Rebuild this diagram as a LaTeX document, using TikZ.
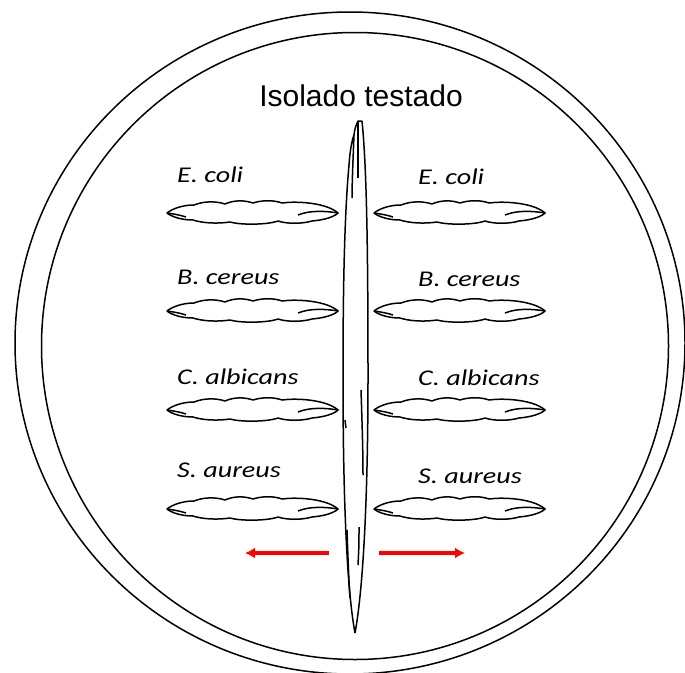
\documentclass[tikz,border=0pt]{standalone}
\usepackage{fontspec}
\setmainfont{Liberation Sans}
\newfontfamily\calibri[FakeStretch=1.25]{Carlito}
\usetikzlibrary{arrows.meta}

\begin{document}
\begin{tikzpicture}[x=1pt,y=-1pt,
  borda/.style={line width=1.5pt},
  risco/.style={line width=1.5pt,line join=round},
  micro/.style={font=\calibri\itshape\fontsize{22.5}{26}\selectfont,anchor=base west,inner sep=0pt},
  titulo/.style={font=\fontsize{30}{36}\selectfont,anchor=base,inner sep=0pt},
  seta/.style={-{Latex[length=10pt,width=11pt]},red,line width=3.5pt},
  streak/.pic={
    \draw[risco] (-85,1) .. controls (-80,-3) and (-70,-7) .. (-58,-7)
      .. controls (-48,-11) and (-36,-11) .. (-27,-8)
      .. controls (-18,-12) and (-8,-12) .. (1,-9)
      .. controls (10,-12) and (22,-12) .. (30,-9)
      .. controls (45,-11) and (62,-9) .. (72,-6)
      .. controls (79,-4) and (84,-1) .. (86,1)
      .. controls (82,5) and (72,8) .. (60,9)
      .. controls (50,12) and (35,12) .. (26,9)
      .. controls (15,13) and (-12,13) .. (-22,10)
      .. controls (-35,12) and (-50,11) .. (-59,8)
      .. controls (-70,8) and (-80,5) .. cycle;
    \draw[risco] (-85,1) .. controls (-78,2) and (-72,3) .. (-66,5);
    \draw[risco] (46,3) .. controls (58,-2) and (74,-1) .. (86,1);
  }]
  \useasboundingbox (0,0) rectangle (685,672);
  \draw[borda] (350,343) ellipse [x radius=335,y radius=331];
  \draw[borda] (355,346) circle [radius=313.5];
  \node[titulo] (isolado) at (361,106) {Isolado testado};
  \draw[risco] (349,165) .. controls (344,220) and (343,300) .. (343,377)
    .. controls (343,500) and (347,590) .. (355,633);
  \draw[risco] (362,121) .. controls (367,170) and (368,260) .. (368,377)
    .. controls (368,500) and (363,590) .. (355,633);
  \draw[risco] (349,165) .. controls (350,150) and (352,140) .. (354,135)
    .. controls (353,160) and (352,185) .. (352,198);
  \draw[risco] (354,135) .. controls (355,128) .. (358,121) -- (362,121);
  \draw[risco] (358,121) .. controls (358,140) and (358,160) .. (358,178);
  \draw[risco] (361,390) .. controls (362,420) and (363,450) .. (363,475);
  \draw[risco] (345,420) -- (346,428);
  \draw[risco] (347,530) .. controls (348,560) and (349,585) .. (350,598);
  \draw[risco] (359,527) .. controls (359,545) .. (358,565);
  \foreach \y/\tl/\tr/\n [count=\k] in {212/182/184/E. coli,310/284/286/B. cereus,
      409/384/385/C. albicans,508/477/483/S. aureus} {
    \pic at (252,\y) {streak};
    \pic at (459,\y) {streak};
    \node[micro] (esq\k) at (177,\tl) {\n};
    \node[micro] (dir\k) at (418,\tr) {\n};
  }
  \coordinate (sl0) at (329,553);
  \coordinate (sl1) at (245,553);
  \coordinate (sr0) at (379,553);
  \coordinate (sr1) at (465,553);
  \draw[seta] (sl0) -- (sl1);
  \draw[seta] (sr0) -- (sr1);
\end{tikzpicture}
\end{document}
